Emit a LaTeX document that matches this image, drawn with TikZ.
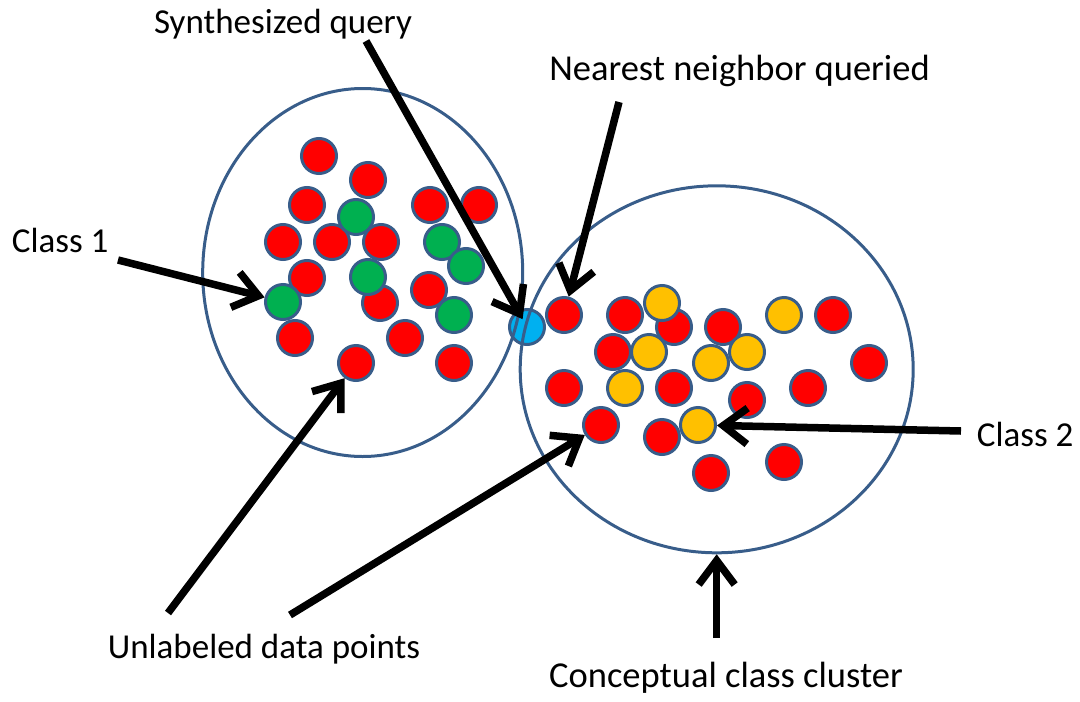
\documentclass[tikz,border=0pt]{standalone}
\usepackage{fontspec}
\setmainfont{Carlito}
\usepackage{xcolor}
\usetikzlibrary{shapes.geometric,arrows.meta}
\definecolor{rimblue}{HTML}{385D8A}
\definecolor{grpt}{HTML}{00B050}
\definecolor{ylpt}{HTML}{FFC000}
\definecolor{qrpt}{HTML}{00B0F0}

\begin{document}
\begin{tikzpicture}[x=1pt,y=-1pt,
	pt/.style={circle, draw=rimblue, line width=3pt, minimum size=35pt, inner sep=0pt},
	redpt/.style={pt, fill=red},
	greenpt/.style={pt, fill=grpt},
	yellowpt/.style={pt, fill=ylpt},
	querypt/.style={pt, fill=qrpt},
	cluster/.style={ellipse, draw=rimblue, line width=3pt, inner sep=0pt},
	pointer/.style={line width=7.5pt, -{Straight Barb[length=24pt,width=36pt]}},
	lbl/.style={font=\fontsize{35}{42}\selectfont, inner sep=0pt},
	biglbl/.style={font=\fontsize{36.5}{44}\selectfont, inner sep=0pt}]
	\useasboundingbox (0,0) rectangle (1080,702);
	% query point, under both clusters
	\node[querypt] (q) at (527,327) {};
	% class 1 side
	\node[redpt] (l1) at (319,156) {}; \node[redpt] (l2) at (368,180) {}; \node[redpt] (l3) at (307,205) {};
	\node[redpt] (l4) at (430,205) {}; \node[redpt] (l5) at (479,205) {}; \node[redpt] (l6) at (283,242) {};
	\node[redpt] (l7) at (332,242) {}; \node[redpt] (l8) at (381,242) {}; \node[redpt] (l9) at (307,278) {};
	\node[redpt] (l10) at (380,303) {}; \node[redpt] (l11) at (429,290) {}; \node[redpt] (l12) at (295,338) {};
	\node[redpt] (l13) at (405,338) {}; \node[redpt] (l14) at (356,363) {}; \node[redpt] (l15) at (454,363) {};
	\node[greenpt] (g1) at (356,217) {}; \node[greenpt] (g2) at (442,242) {}; \node[greenpt] (g3) at (466,266) {};
	\node[greenpt] (g4) at (368,277) {}; \node[greenpt] (g5) at (283,302) {}; \node[greenpt] (g6) at (454,315) {};
	% class 2 side
	\node[redpt] (r1) at (564,315) {}; \node[redpt] (r2) at (625,315) {}; \node[redpt] (r3) at (674,327) {};
	\node[redpt] (r4) at (723,327) {}; \node[redpt] (r5) at (833,315) {}; \node[redpt] (r6) at (613,352) {};
	\node[redpt] (r7) at (869,363) {}; \node[redpt] (r8) at (564,388) {}; \node[redpt] (r9) at (674,388) {};
	\node[redpt] (r10) at (747,400) {}; \node[redpt] (r11) at (808,388) {}; \node[redpt] (r12) at (601,425) {};
	\node[redpt] (r13) at (662,437) {}; \node[redpt] (r14) at (711,473) {}; \node[redpt] (r15) at (784,462) {};
	\node[yellowpt] (y1) at (662,303) {}; \node[yellowpt] (y2) at (784,315) {}; \node[yellowpt] (y3) at (649,352) {};
	\node[yellowpt] (y4) at (711,363) {}; \node[yellowpt] (y5) at (747,352) {}; \node[yellowpt] (y6) at (625,388) {};
	\node[yellowpt] (y7) at (698,425) {};
	% the two clusters
	\node[cluster, minimum width=320pt, minimum height=368pt] (left) at (362.7,272.5) {};
	\node[cluster, minimum width=393pt, minimum height=367pt] (right) at (716.7,369.3) {};
	% labels
	\node[lbl, anchor=base] (synth) at (283,33) {Synthesized query};
	\node[biglbl, anchor=base] (near) at (739.5,80) {Nearest neighbor queried};
	\node[lbl, anchor=base west] (cls1) at (11.7,252) {Class 1};
	\node[lbl, anchor=base west] (cls2) at (976.7,446.7) {Class 2};
	\node[lbl, anchor=base] (unlab) at (264,658) {Unlabeled data points};
	\node[biglbl, anchor=base] (concept) at (726,687) {Conceptual class cluster};
	% arrow tails
	\coordinate (synthT) at (366,41);
	\coordinate (nearT) at (619,102);
	\coordinate (cls1T) at (118,260);
	\coordinate (cls2T) at (961,431);
	\coordinate (unlabTa) at (168,613);
	\coordinate (unlabTb) at (290,615);
	\coordinate (conceptT) at (716.7,638);
	\draw[pointer, shorten >=9pt] (synthT) -- (q.center);
	\draw[pointer] (nearT) -- (r1);
	\draw[pointer] (cls1T) -- (g5);
	\draw[pointer] (cls2T) -- (y7);
	\draw[pointer] (unlabTa) -- (l14);
	\draw[pointer] (unlabTb) -- (r12);
	\draw[pointer] (conceptT) -- (right.south);
\end{tikzpicture}
\end{document}
